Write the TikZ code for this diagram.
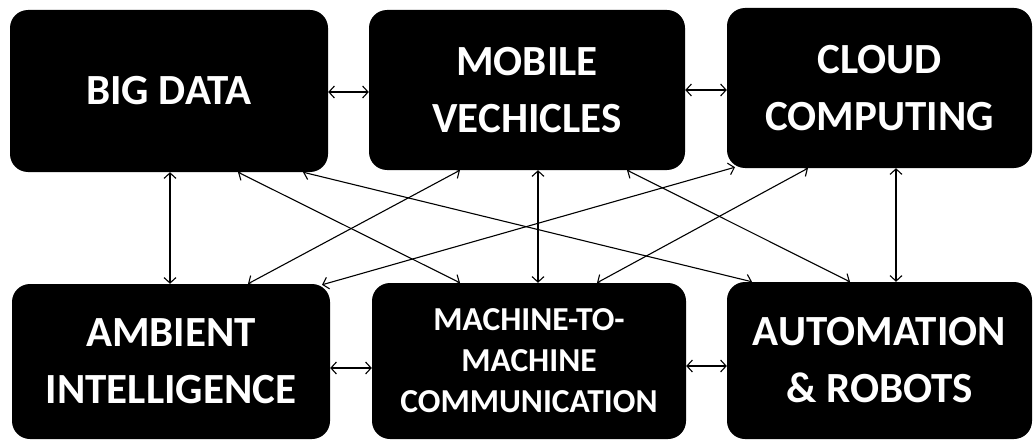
\documentclass[tikz,border=0pt]{standalone}
\usepackage{fontspec}
\setmainfont{Carlito}
\usetikzlibrary{arrows.meta}
\begin{document}
\begin{tikzpicture}[x=1pt,y=1pt,
  box/.style={fill=black, rounded corners=18pt, text=white, align=center, inner sep=0pt,
    font=\bfseries\fontsize{43}{57}\selectfont},
  smallbox/.style={box, font=\bfseries\fontsize{33.5}{41}\selectfont},
  link/.style={{Straight Barb[length=5.5pt,width=12pt]}-{Straight Barb[length=5.5pt,width=12pt]}, line width=1.1pt, black}]
\useasboundingbox (0,0) rectangle (1033,440);
% top row
\node[box, minimum width=318pt, minimum height=162pt] (bd) at (169,349) {BIG DATA};
\node[box, minimum width=316pt, minimum height=160pt] (mv) at (527,350) {MOBILE\\VECHICLES};
\node[box, minimum width=305pt, minimum height=160pt] (cc) at (879.5,352) {CLOUD\\COMPUTING};
% bottom row
\node[box, minimum width=318pt, minimum height=155pt] (ai) at (171,78.5) {AMBIENT\\INTELLIGENCE};
\node[smallbox, minimum width=314pt, minimum height=156pt] (mm) at (529,79) {MACHINE-TO-\\MACHINE\\COMMUNICATION};
\node[box, minimum width=305pt, minimum height=157pt] (ar) at (879.5,79.5) {AUTOMATION\\\& ROBOTS};
% horizontal links
\draw[link] ([yshift=-1pt]bd.east) -- ([yshift=-1pt]bd.east -| mv.west);
\draw[link] (mv.east) -- (mv.east -| cc.west);
\draw[link] ([yshift=-6.5pt]ai.east) -- ([yshift=-6.5pt]ai.east -| mm.west);
\draw[link] ([yshift=-5pt]mm.east) -- ([yshift=-5pt]mm.east -| ar.west);
% vertical links
\draw[link] ([xshift=1pt]bd.south) -- ([xshift=1pt]bd.south |- ai.north);
\draw[link] ([xshift=11pt]mv.south) -- ([xshift=11pt]mv.south |- mm.north);
\draw[link] ([xshift=16.5pt]cc.south) -- ([xshift=16.5pt]cc.south |- ar.north);
% diagonal links
\draw[link] ([xshift=69pt]bd.south) -- ([xshift=-69pt]mm.north);
\draw[link] ([xshift=134pt]bd.south) -- ([xshift=-127.5pt]ar.north);
\draw[link] ([xshift=-67pt]mv.south) -- ([xshift=77pt]ai.north);
\draw[link] ([xshift=100pt]mv.south) -- ([xshift=-29.5pt]ar.north);
\draw[link] ([xshift=-144.5pt,yshift=1pt]cc.south) -- ([xshift=151pt,yshift=-1pt]ai.north);
\draw[link] ([xshift=-71.5pt]cc.south) -- ([xshift=68pt]mm.north);
\end{tikzpicture}
\end{document}
